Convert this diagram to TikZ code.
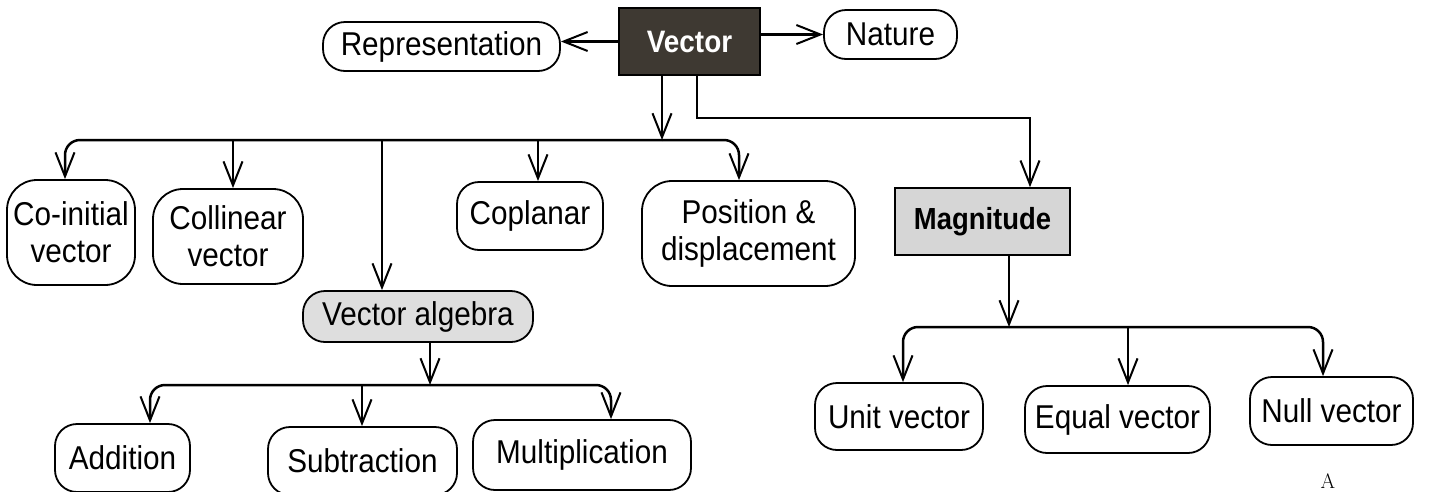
\documentclass[tikz,border=0pt]{standalone}
\usepackage{fontspec}
\newfontfamily\diagfont{Liberation Sans}[FakeStretch=0.9]
\usetikzlibrary{arrows.meta}
\definecolor{vecfill}{RGB}{62,57,50}
\definecolor{magfill}{RGB}{214,214,214}
\definecolor{algfill}{RGB}{222,222,222}

\begin{document}
\begin{tikzpicture}[x=1pt,y=-1pt,
    box/.style={draw=black, line width=1.8pt, rounded corners=22pt, align=center, inner sep=0pt, font=\diagfont\fontsize{33}{37}\selectfont},
    tallbox/.style={box, rounded corners=30pt},
    darkbox/.style={draw=black, line width=2pt, fill=vecfill, text=white, inner sep=0pt, font=\diagfont\bfseries\fontsize{31}{34}\selectfont},
    greybox/.style={draw=black, line width=1.6pt, fill=magfill, inner sep=0pt, font=\diagfont\bfseries\fontsize{30.5}{33}\selectfont},
    arr/.style={-{Straight Barb[length=24pt,width=19pt,line width=2pt]}, line width=2.5pt},
]
    \useasboundingbox (0,0) rectangle (1434,491);

    % top row
    \node[darkbox, minimum width=141pt, minimum height=67pt] (vec) at (689.5,41.5) {Vector};
    \node[box, minimum width=237pt, minimum height=49pt] (rep) at (441.5,46.5) {Representation};
    \node[box, minimum width=133pt, minimum height=49pt] (nat) at (890.5,34.5) {Nature};

    % second row
    \node[tallbox, minimum width=128pt, minimum height=105pt] (coin) at (71,232.5) {Co-initial\\vector};
    \node[tallbox, minimum width=150pt, minimum height=95pt] (coll) at (228,236.5) {Collinear\\vector};
    \node[box, minimum width=146pt, minimum height=68pt] (copl) at (530,216) {Coplanar};
    \node[tallbox, minimum width=213pt, minimum height=105pt] (posn) at (748.5,233.5) {Position \&\\displacement};
    \node[greybox, minimum width=175pt, minimum height=67pt] (mag) at (982.5,221.5) {Magnitude};
    \node[box, fill=algfill, minimum width=230pt, minimum height=51pt] (valg) at (418,316.5) {Vector algebra};

    % bottom row
    \node[box, minimum width=135pt, minimum height=68pt] (add) at (122.5,458) {Addition};
    \node[box, minimum width=189pt, minimum height=68pt] (sub) at (362.5,461) {Subtraction};
    \node[box, minimum width=218pt, minimum height=70pt] (mult) at (582,455) {Multiplication};
    \node[box, minimum width=168pt, minimum height=67pt] (unit) at (899,416.5) {Unit vector};
    \node[box, minimum width=185pt, minimum height=67pt] (equal) at (1117.5,419.5) {Equal vector};
    \node[box, minimum width=163pt, minimum height=68pt] (null) at (1331.5,411) {Null vector};
    \node[font=\fontsize{21}{24}\selectfont, inner sep=0pt] (mark) at (1328,481.5) {A};

    % branch points
    \coordinate (hub1) at (662,140);
    \coordinate (lft1) at (65,140);
    \coordinate (rgt1) at (739,140);
    \coordinate (drop2) at (233,140);
    \coordinate (drop3) at (382,140);
    \coordinate (drop4) at (538,140);
    \coordinate (kink1) at (697,118);
    \coordinate (kink2) at (1030,118);
    \coordinate (hub2) at (1009,327);
    \coordinate (lft2) at (903,327);
    \coordinate (rgt2) at (1323,327);
    \coordinate (drop5) at (1128,327);
    \coordinate (hub3) at (430,385);
    \coordinate (lft3) at (150,385);
    \coordinate (rgt3) at (611,385);
    \coordinate (drop6) at (362,385);

    % connectors
    \draw[arr] (vec.west) -- (vec.west -| rep.east);
    \draw[arr] (vec.east |- nat.west) -- (nat.west);
    \draw[arr] (vec.south -| hub1) -- (hub1);
    \draw[arr, rounded corners=15pt] (hub1) -- (lft1) -- (lft1 |- coin.north);
    \draw[arr, rounded corners=15pt] (hub1) -- (rgt1) -- (rgt1 |- posn.north);
    \draw[arr] (drop2) -- (drop2 |- coll.north);
    \draw[arr] (drop3) -- (drop3 |- valg.north);
    \draw[arr] (drop4) -- (drop4 |- copl.north);
    \draw[arr] (vec.south -| kink1) -- (kink1) -- (kink2) -- (kink2 |- mag.north);

    \draw[arr] (mag.south -| hub2) -- (hub2);
    \draw[arr, rounded corners=15pt] (hub2) -- (lft2) -- (lft2 |- unit.north);
    \draw[arr, rounded corners=15pt] (hub2) -- (rgt2) -- (rgt2 |- null.north);
    \draw[arr] (drop5) -- (drop5 |- equal.north);

    \draw[arr] (valg.south -| hub3) -- (hub3);
    \draw[arr, rounded corners=15pt] (hub3) -- (lft3) -- (lft3 |- add.north);
    \draw[arr, rounded corners=15pt] (hub3) -- (rgt3) -- (rgt3 |- mult.north);
    \draw[arr] (drop6) -- (drop6 |- sub.north);
\end{tikzpicture}
\end{document}
